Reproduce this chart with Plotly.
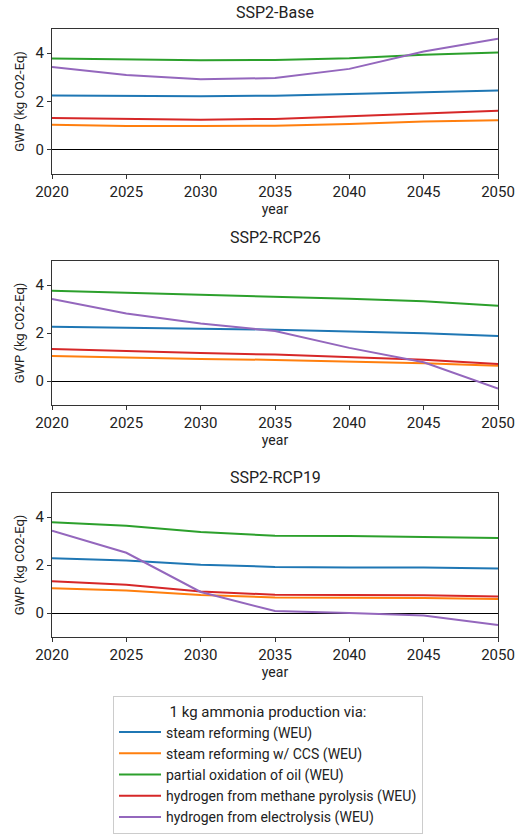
import plotly.graph_objects as go

years = [2020, 2025, 2030, 2035, 2040, 2045, 2050]

scenarios = ["SSP2-Base", "SSP2-RCP26", "SSP2-RCP19"]

routes = [
    "steam reforming (WEU)",
    "steam reforming w/ CCS (WEU)",
    "partial oxidation of oil (WEU)",
    "hydrogen from methane pyrolysis (WEU)",
    "hydrogen from electrolysis (WEU)",
]

colors = ["#1f77b4", "#ff7f0e", "#2ca02c", "#d62728", "#9467bd"]

# GWP, kg CO2-Eq per kg ammonia, per scenario and route
base_smr = [2.25, 2.22, 2.22, 2.24, 2.31, 2.39, 2.46]
base_smr_ccs = [1.04, 0.99, 0.99, 1.00, 1.07, 1.17, 1.22]
base_pox = [3.78, 3.75, 3.71, 3.72, 3.79, 3.93, 4.03]
base_pyro = [1.32, 1.28, 1.25, 1.28, 1.38, 1.50, 1.62]
base_elec = [3.43, 3.10, 2.92, 2.97, 3.35, 4.07, 4.60]

rcp26_smr = [2.26, 2.22, 2.18, 2.14, 2.06, 1.99, 1.88]
rcp26_smr_ccs = [1.04, 0.97, 0.92, 0.88, 0.82, 0.74, 0.64]
rcp26_pox = [3.76, 3.68, 3.61, 3.54, 3.43, 3.32, 3.14]
rcp26_pyro = [1.33, 1.24, 1.17, 1.10, 1.00, 0.89, 0.71]
rcp26_elec = [3.42, 2.81, 2.40, 2.08, 1.38, 0.78, -0.31]

rcp19_smr = [2.28, 2.19, 2.01, 1.92, 1.90, 1.90, 1.85]
rcp19_smr_ccs = [1.03, 0.94, 0.75, 0.65, 0.64, 0.63, 0.58]
rcp19_pox = [3.78, 3.64, 3.38, 3.22, 3.21, 3.18, 3.13]
rcp19_pyro = [1.32, 1.18, 0.90, 0.76, 0.75, 0.74, 0.69]
rcp19_elec = [3.43, 2.51, 0.875, 0.08, 0.00, -0.10, -0.50]

panels = [
    [base_smr, base_smr_ccs, base_pox, base_pyro, base_elec],
    [rcp26_smr, rcp26_smr_ccs, rcp26_pox, rcp26_pyro, rcp26_elec],
    [rcp19_smr, rcp19_smr_ccs, rcp19_pox, rcp19_pyro, rcp19_elec],
]

W, H = 518, 836
FONT = "Roboto"
TXT = "#222"

# plot-area boxes in pixels: (top, bottom)
boxes = [(29, 174), (261, 405), (493, 637)]
x_left, x_right = 52, 498
title_y = [13, 237, 477]

fig = go.Figure()
layout = dict(
    width=W, height=H,
    margin=dict(l=0, r=0, t=0, b=0, autoexpand=False),
    paper_bgcolor="white", plot_bgcolor="white",
    font=dict(family=FONT, size=14, color=TXT),
    showlegend=True,
)

annotations = []
for i, (series, scen) in enumerate(zip(panels, scenarios)):
    ax = "" if i == 0 else str(i + 1)
    for j, (vals, name, col) in enumerate(zip(series, routes, colors)):
        fig.add_trace(go.Scatter(
            x=years, y=vals, mode="lines", name=name,
            line=dict(color=col, width=2),
            xaxis="x" + ax, yaxis="y" + ax,
            showlegend=(i == 0), legendgroup=name,
        ))
    top, bot = boxes[i]
    layout["xaxis" + ax] = dict(
        domain=[x_left / W, x_right / W],
        anchor="y" + ax, automargin=False,
        range=[2020, 2050], tickvals=[2020, 2025, 2030, 2035, 2040, 2045, 2050],
        showgrid=False, zeroline=False,
        showline=True, mirror=True, linecolor="#333", linewidth=1,
        ticks="outside", ticklen=4, tickcolor="#333",
        tickfont=dict(size=15, color=TXT),
        title=dict(text="year", font=dict(size=14, color=TXT), standoff=2),
    )
    layout["yaxis" + ax] = dict(
        domain=[1 - bot / H, 1 - top / H],
        anchor="x" + ax, automargin=False,
        range=[-1, 5], tickvals=[0, 2, 4],
        showgrid=False,
        zeroline=True, zerolinecolor="black", zerolinewidth=1,
        showline=True, mirror=True, linecolor="#333", linewidth=1,
        ticks="outside", ticklen=4, tickcolor="#333",
        tickfont=dict(size=15, color=TXT),
        title=dict(text="GWP (kg CO2-Eq)", font=dict(size=13, color=TXT), standoff=8),
    )
    annotations.append(dict(
        text=scen, x=(x_left + x_right) / 2 / W, y=1 - title_y[i] / H,
        xref="paper", yref="paper", xanchor="center", yanchor="middle",
        showarrow=False, font=dict(size=16, color=TXT),
    ))

layout["annotations"] = annotations
layout["legend"] = dict(
    x=113 / W, y=1 - 696 / H, xanchor="left", yanchor="top",
    bordercolor="#cccccc", borderwidth=1, bgcolor="white",
    font=dict(size=14, color=TXT),
    title=dict(text="1 kg ammonia production via:", side="top center",
               font=dict(size=15, color=TXT)),
    tracegroupgap=0, itemwidth=42,
)
fig.update_layout(**layout)
fig.write_html("out.html")
